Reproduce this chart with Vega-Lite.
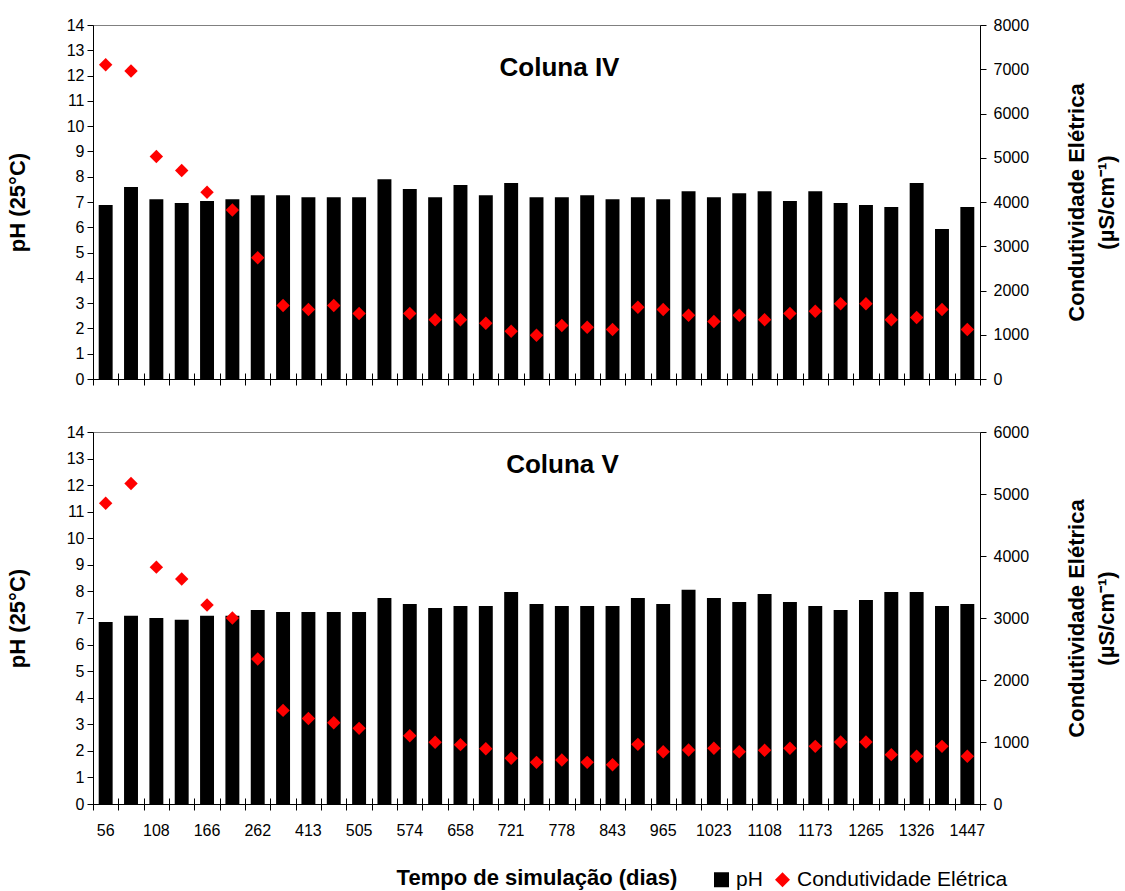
{
  "$schema": "https://vega.github.io/schema/vega-lite/v6.json",
  "background": "white",
  "padding": {"left": 5, "top": 16, "right": 5, "bottom": 5},
  "spacing": 35,
  "config": {
    "font": "Liberation Sans",
    "view": {"stroke": "#808080", "strokeWidth": 1},
    "axis": {
      "grid": false,
      "domainColor": "#000000",
      "tickColor": "#000000",
      "labelColor": "#000000",
      "titleColor": "#000000",
      "labelFont": "Liberation Sans",
      "titleFont": "Liberation Sans",
      "labelFontSize": 16,
      "titleFontWeight": "bold"
    },
    "title": {"font": "Liberation Sans", "color": "#000000"}
  },
  "datasets": {
    "colunaIV": [
      {"dia": "56", "ph": 6.88, "ce": 7100},
      {"dia": "80", "ph": 7.59, "ce": 6960},
      {"dia": "108", "ph": 7.11, "ce": 5030},
      {"dia": "136", "ph": 6.96, "ce": 4710},
      {"dia": "166", "ph": 7.04, "ce": 4220},
      {"dia": "210", "ph": 7.11, "ce": 3820},
      {"dia": "262", "ph": 7.27, "ce": 2740},
      {"dia": "336", "ph": 7.27, "ce": 1660},
      {"dia": "413", "ph": 7.19, "ce": 1570},
      {"dia": "459", "ph": 7.19, "ce": 1660},
      {"dia": "505", "ph": 7.19, "ce": 1480},
      {"dia": "540", "ph": 7.9, "ce": null},
      {"dia": "574", "ph": 7.51, "ce": 1480},
      {"dia": "616", "ph": 7.19, "ce": 1340},
      {"dia": "658", "ph": 7.67, "ce": 1340},
      {"dia": "690", "ph": 7.27, "ce": 1260},
      {"dia": "721", "ph": 7.75, "ce": 1080},
      {"dia": "750", "ph": 7.19, "ce": 990},
      {"dia": "778", "ph": 7.19, "ce": 1210},
      {"dia": "811", "ph": 7.27, "ce": 1170},
      {"dia": "843", "ph": 7.11, "ce": 1120},
      {"dia": "904", "ph": 7.19, "ce": 1620},
      {"dia": "965", "ph": 7.11, "ce": 1570},
      {"dia": "994", "ph": 7.43, "ce": 1440},
      {"dia": "1023", "ph": 7.19, "ce": 1300},
      {"dia": "1066", "ph": 7.35, "ce": 1440},
      {"dia": "1108", "ph": 7.43, "ce": 1340},
      {"dia": "1141", "ph": 7.04, "ce": 1480},
      {"dia": "1173", "ph": 7.43, "ce": 1530},
      {"dia": "1219", "ph": 6.96, "ce": 1700},
      {"dia": "1265", "ph": 6.88, "ce": 1700},
      {"dia": "1296", "ph": 6.8, "ce": 1340},
      {"dia": "1326", "ph": 7.75, "ce": 1390},
      {"dia": "1387", "ph": 5.93, "ce": 1570},
      {"dia": "1447", "ph": 6.8, "ce": 1120}
    ],
    "colunaV": [
      {"dia": "56", "ph": 6.85, "ce": 4850},
      {"dia": "80", "ph": 7.08, "ce": 5170},
      {"dia": "108", "ph": 7.0, "ce": 3820},
      {"dia": "136", "ph": 6.93, "ce": 3630},
      {"dia": "166", "ph": 7.08, "ce": 3210},
      {"dia": "210", "ph": 7.08, "ce": 3000},
      {"dia": "262", "ph": 7.3, "ce": 2340},
      {"dia": "336", "ph": 7.23, "ce": 1510},
      {"dia": "413", "ph": 7.23, "ce": 1380},
      {"dia": "459", "ph": 7.23, "ce": 1310},
      {"dia": "505", "ph": 7.23, "ce": 1220},
      {"dia": "540", "ph": 7.75, "ce": null},
      {"dia": "574", "ph": 7.53, "ce": 1100},
      {"dia": "616", "ph": 7.38, "ce": 995},
      {"dia": "658", "ph": 7.45, "ce": 957},
      {"dia": "690", "ph": 7.45, "ce": 892},
      {"dia": "721", "ph": 7.98, "ce": 737},
      {"dia": "750", "ph": 7.53, "ce": 672},
      {"dia": "778", "ph": 7.45, "ce": 710},
      {"dia": "811", "ph": 7.45, "ce": 672},
      {"dia": "843", "ph": 7.45, "ce": 634},
      {"dia": "904", "ph": 7.75, "ce": 962},
      {"dia": "965", "ph": 7.53, "ce": 844},
      {"dia": "994", "ph": 8.06, "ce": 871},
      {"dia": "1023", "ph": 7.75, "ce": 898},
      {"dia": "1066", "ph": 7.6, "ce": 844},
      {"dia": "1108", "ph": 7.9, "ce": 866},
      {"dia": "1141", "ph": 7.6, "ce": 898},
      {"dia": "1173", "ph": 7.45, "ce": 930},
      {"dia": "1219", "ph": 7.3, "ce": 1000},
      {"dia": "1265", "ph": 7.68, "ce": 1000},
      {"dia": "1296", "ph": 7.98, "ce": 796},
      {"dia": "1326", "ph": 7.98, "ce": 769},
      {"dia": "1387", "ph": 7.45, "ce": 930},
      {"dia": "1447", "ph": 7.53, "ce": 769}
    ]
  },
  "vconcat": [
    {
      "data": {"name": "colunaIV"},
      "width": 887,
      "height": 354,
      "title": {"text": "Coluna IV", "fontSize": 26, "fontWeight": "bold", "anchor": "middle", "frame": "group", "dx": 23, "offset": -85, "baseline": "alphabetic"},
      "layer": [
        {
          "mark": {"type": "bar", "color": "#000000", "width": {"band": 0.55}},
          "encoding": {
            "x": {
              "field": "dia", "type": "ordinal", "sort": null,
              "scale": {"paddingInner": 0, "paddingOuter": 0},
              "axis": {"orient": "bottom", "labels": false, "domain": false, "title": null, "tickBand": "extent", "tickSize": 12, "offset": -6}
            },
            "y": {
              "field": "ph", "type": "quantitative",
              "scale": {"domain": [0, 14], "nice": false},
              "axis": {"orient": "left", "values": [0, 1, 2, 3, 4, 5, 6, 7, 8, 9, 10, 11, 12, 13, 14], "title": "pH (25°C)", "titleFontSize": 22, "tickSize": 6, "labelPadding": 3, "titlePadding": 37}
            }
          }
        },
        {
          "mark": {"type": "point", "shape": "diamond", "filled": true, "color": "#ff0000", "size": 180, "opacity": 1},
          "encoding": {
            "x": {
              "field": "dia", "type": "ordinal", "sort": null,
              "axis": {"orient": "bottom", "labels": false, "ticks": false, "title": null, "domain": true}
            },
            "y": {
              "field": "ce", "type": "quantitative",
              "scale": {"domain": [0, 8000], "nice": false},
              "axis": {"orient": "right", "values": [0, 1000, 2000, 3000, 4000, 5000, 6000, 7000, 8000], "format": "d", "title": ["Condutividade Elétrica", "(µS/cm⁻¹)"], "titleFontSize": 22, "titleAngle": 270, "titleBaseline": "top", "titleLineHeight": 30, "tickSize": 6, "labelPadding": 7, "titlePadding": 8}
            }
          }
        }
      ],
      "resolve": {"scale": {"y": "independent"}, "axis": {"x": "independent", "y": "independent"}}
    },
    {
      "data": {"name": "colunaV"},
      "width": 887,
      "height": 372,
      "title": {"text": "Coluna V", "fontSize": 26, "fontWeight": "bold", "anchor": "middle", "frame": "group", "dx": 26, "offset": -75, "baseline": "alphabetic"},
      "layer": [
        {
          "mark": {"type": "bar", "width": {"band": 0.55}},
          "encoding": {
            "x": {
              "field": "dia", "type": "ordinal", "sort": null,
              "scale": {"paddingInner": 0, "paddingOuter": 0},
              "axis": {"orient": "bottom", "labels": false, "domain": false, "title": null, "tickBand": "extent", "tickSize": 12, "offset": -6}
            },
            "y": {
              "field": "ph", "type": "quantitative",
              "scale": {"domain": [0, 14], "nice": false},
              "axis": {"orient": "left", "values": [0, 1, 2, 3, 4, 5, 6, 7, 8, 9, 10, 11, 12, 13, 14], "title": "pH (25°C)", "titleFontSize": 22, "tickSize": 6, "labelPadding": 3, "titlePadding": 37}
            },
            "color": {
              "datum": "pH", "type": "nominal",
              "scale": {"domain": ["pH", "Condutividade Elétrica"], "range": ["#000000", "#ff0000"]},
              "legend": {
                "orient": "none", "legendX": 618, "legendY": 844, "direction": "horizontal",
                "title": null, "padding": 0, "labelFont": "Liberation Sans", "labelFontSize": 21, "labelColor": "#000000",
                "labelLimit": 0,
                "symbolSize": 225, "symbolOpacity": 1, "labelOffset": 4, "columnPadding": 9,
                "encode": {
                  "symbols": {
                    "update": {
                      "shape": {"signal": "datum.value === 'pH' ? 'square' : 'diamond'"},
                      "fill": {"signal": "datum.value === 'pH' ? '#000000' : '#ff0000'"},
                      "strokeWidth": {"value": 0}
                    }
                  }
                }
              }
            }
          }
        },
        {
          "mark": {"type": "point", "shape": "diamond", "filled": true, "size": 180, "opacity": 1},
          "encoding": {
            "x": {
              "field": "dia", "type": "ordinal", "sort": null,
              "axis": {
                "orient": "bottom", "ticks": false, "tickSize": 0, "domain": true, "labelAngle": 0,
                "labelPadding": 18, "labelOverlap": false, "labelBound": false,
                "labelExpr": "indexof(['56','108','166','262','413','505','574','658','721','778','843','965','1023','1108','1173','1265','1326','1447'], datum.label) >= 0 ? datum.label : ''",
                "title": "Tempo de simulação (dias)", "titleFontSize": 22, "titlePadding": 29
              }
            },
            "y": {
              "field": "ce", "type": "quantitative",
              "scale": {"domain": [0, 6000], "nice": false},
              "axis": {"orient": "right", "values": [0, 1000, 2000, 3000, 4000, 5000, 6000], "format": "d", "title": ["Condutividade Elétrica", "(µS/cm⁻¹)"], "titleFontSize": 22, "titleAngle": 270, "titleBaseline": "top", "titleLineHeight": 30, "tickSize": 6, "labelPadding": 7, "titlePadding": 8}
            },
            "color": {"datum": "Condutividade Elétrica", "type": "nominal"}
          }
        }
      ],
      "resolve": {"scale": {"y": "independent"}, "axis": {"x": "independent", "y": "independent"}}
    }
  ]
}
